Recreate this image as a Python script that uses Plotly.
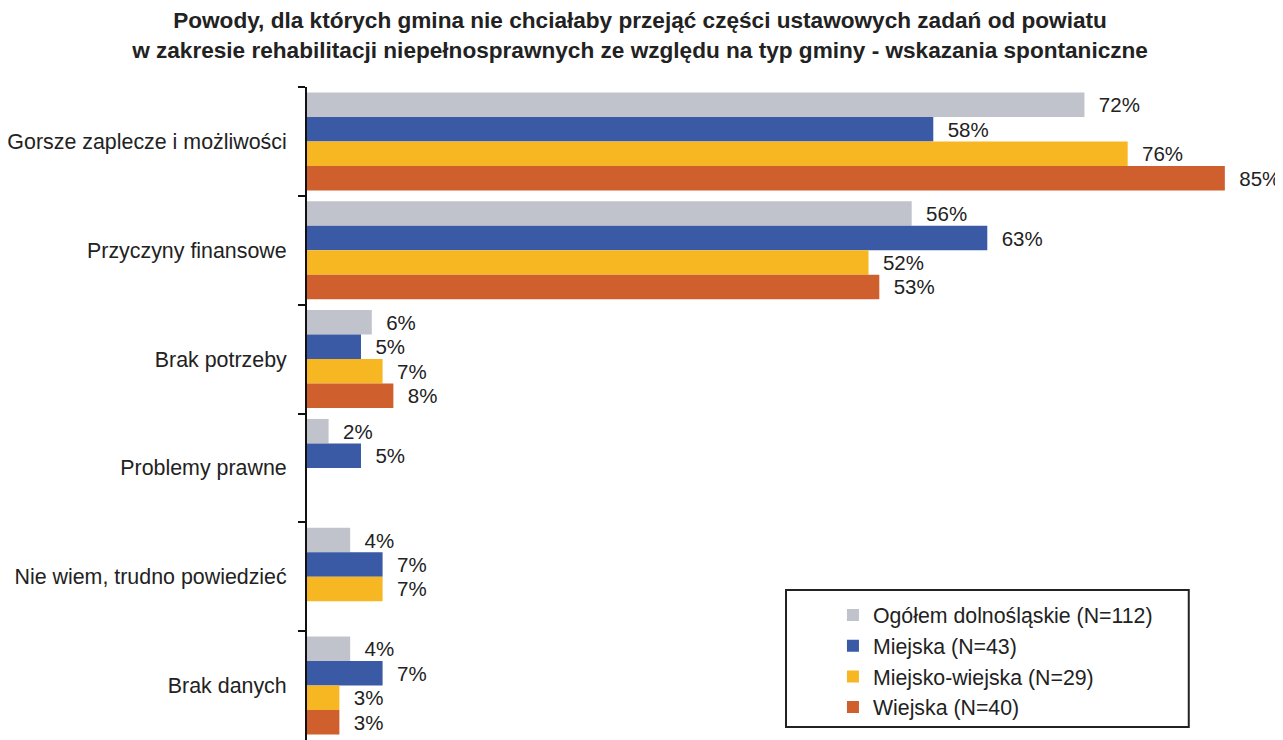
import plotly.graph_objects as go

categories = [
    "Gorsze zaplecze i możliwości",
    "Przyczyny finansowe",
    "Brak potrzeby",
    "Problemy prawne",
    "Nie wiem, trudno powiedzieć",
    "Brak danych",
]

series_names = [
    "Ogółem dolnośląskie (N=112)",
    "Miejska (N=43)",
    "Miejsko-wiejska (N=29)",
    "Wiejska (N=40)",
]

ogolem = [72, 56, 6, 2, 4, 4]
miejska = [58, 63, 5, 5, 7, 7]
miejsko_wiejska = [76, 52, 7, None, 7, 3]
wiejska = [85, 53, 8, None, None, 3]

colors = ["#C0C3CB", "#3A5AA5", "#F7B723", "#CF5F2D"]

fig = go.Figure()

for i, (name, vals, col) in enumerate(zip(series_names, [ogolem, miejska, miejsko_wiejska, wiejska], colors)):
    labels = [("\u00a0\u00a0%d%%" % v) if v is not None else "" for v in vals]
    _ = fig.add_trace(
        go.Bar(
            x=vals,
            y=categories,
            orientation="h",
            name=name,
            legendgroup="g%d" % i,
            marker=dict(color=col, line=dict(width=0)),
            text=labels,
            textposition="outside",
            textfont=dict(size=20.5, color="#222222"),
            cliponaxis=False,
        )
    )

# legend frame
fig.add_shape(
    type="rect",
    xref="paper", yref="paper",
    x0=0.4918, x1=0.9053, y0=0.0199, y1=0.2297,
    line=dict(color="#222222", width=2),
    fillcolor="white",
    layer="below",
)

fig.update_layout(
    width=1275,
    height=732,
    barmode="group",
    bargap=0.1,
    bargroupgap=0,
    plot_bgcolor="rgba(0,0,0,0)",
    paper_bgcolor="white",
    font=dict(family="Liberation Sans, Arial, sans-serif", size=21, color="#222222"),
    margin=dict(l=299, r=2, t=79, b=0),
    title=dict(
        text="<b>Powody, dla których gmina nie chciałaby przejąć części ustawowych zadań od powiatu<br>"
             "w zakresie rehabilitacji niepełnosprawnych ze względu na typ gminy - wskazania spontaniczne</b>",
        x=0.4957,
        xref="container",
        xanchor="center",
        y=0.972,
        yref="container",
        yanchor="top",
        font=dict(size=22.6, color="#222222"),
    ),
    xaxis=dict(
        range=[0, 90.2],
        visible=False,
    ),
    yaxis=dict(
        autorange="reversed",
        showline=True,
        linecolor="#111111",
        linewidth=2,
        ticks="outside",
        ticklen=7,
        tickwidth=2,
        tickcolor="#111111",
        tickson="boundaries",
        showgrid=False,
        tickfont=dict(size=21.4),
        ticklabelstandoff=14,
    ),
    legend=dict(
        x=0.540,
        y=0.2225,
        xanchor="left",
        yanchor="top",
        borderwidth=0,
        bgcolor="rgba(0,0,0,0)",
        font=dict(size=21.3),
        traceorder="normal",
        tracegroupgap=3,
    ),
    showlegend=True,
)

fig.write_html("out.html")
